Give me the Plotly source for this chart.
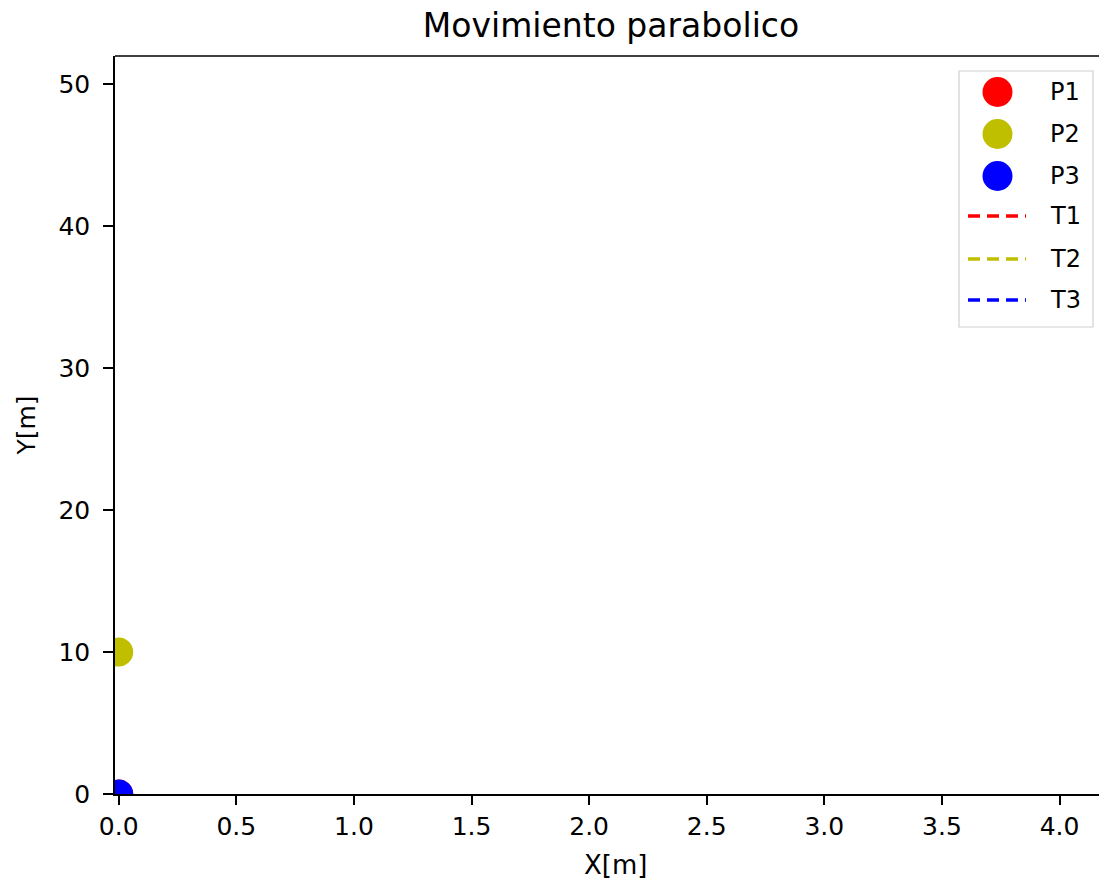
import plotly.graph_objects as go

# ---- data ----
point_names = ["P1", "P2", "P3"]
point_colors = ["#ff0000", "#bfbf00", "#0000ff"]
point_x = [0.0, 0.0, 0.0]
point_y = [0.0, 10.0, 0.0]

traj_names = ["T1", "T2", "T3"]
traj_x = [[0.0], [0.0], [0.0]]
traj_y = [[0.0], [10.0], [0.0]]

x_tick_vals = [0.0, 0.5, 1.0, 1.5, 2.0, 2.5, 3.0, 3.5, 4.0]
x_tick_text = ["0.0", "0.5", "1.0", "1.5", "2.0", "2.5", "3.0", "3.5", "4.0"]
y_tick_vals = [0, 10, 20, 30, 40, 50]
y_tick_text = ["0", "10", "20", "30", "40", "50"]

title_text = "Movimiento parabolico"
x_label = "X[m]"
y_label = "Y[m]"

# ---- layout geometry (page pixels) ----
FIG_W, FIG_H = 1099, 885
L, R, T, B = 115, 1099, 56, 794
PW, PH = R - L, B - T
FONT = "DejaVu Sans"


def px(x):
    return (x - L) / PW


def py(y):
    return (B - y) / PH


fig = go.Figure()

for name, col, xs, ys in zip(traj_names, point_colors, traj_x, traj_y):
    fig.add_trace(go.Scatter(x=xs, y=ys, mode="lines", name=name,
                             line=dict(color=col, width=3.5, dash="13px,6px"),
                             showlegend=False))

for name, col, x, y in zip(point_names, point_colors, point_x, point_y):
    fig.add_trace(go.Scatter(x=[x], y=[y], mode="markers", name=name,
                             marker=dict(color=col, size=29, line=dict(width=0)),
                             showlegend=False))

shapes = []
annotations = []

# top spine (the right spine lies outside the cropped picture)
shapes.append(dict(type="line", xref="paper", yref="paper",
                   x0=0, x1=1, y0=1, y1=1,
                   line=dict(color="black", width=1.5), layer="above"))

# ---- manual legend (matplotlib style) ----
shapes.append(dict(type="rect", xref="paper", yref="paper",
                   x0=px(959), x1=px(1093), y0=py(327), y1=py(71),
                   line=dict(color="#d0d0d0", width=1.2),
                   fillcolor="rgba(255,255,255,0.8)", layer="above"))
entry_y = [92, 134, 176, 216, 259, 300]
labels = point_names + traj_names
for i, (lab, yy) in enumerate(zip(labels, entry_y)):
    col = point_colors[i % 3]
    if i < 3:
        r = 15
        shapes.append(dict(type="circle", xref="paper", yref="paper",
                           x0=px(997.5 - r), x1=px(997.5 + r),
                           y0=py(yy + r), y1=py(yy - r),
                           fillcolor=col, line=dict(width=0), layer="above"))
    else:
        shapes.append(dict(type="line", xref="paper", yref="paper",
                           x0=px(968), x1=px(1026), y0=py(yy), y1=py(yy),
                           line=dict(color=col, width=3.5, dash="12px,7px"),
                           layer="above"))
    annotations.append(dict(text=lab, xref="paper", yref="paper",
                            x=px(1048), y=py(yy), xanchor="left", yanchor="middle",
                            showarrow=False, font=dict(family=FONT, size=24, color="black")))

# x axis label (centred on the full, partly cropped, axes)
annotations.append(dict(text=x_label, xref="paper", yref="paper",
                        x=px(615), y=py(865), xanchor="center", yanchor="middle",
                        showarrow=False, font=dict(family=FONT, size=26, color="black")))

x_scale = 235.2  # px per unit
x0_px = 118.7

fig.update_layout(
    width=FIG_W, height=FIG_H,
    margin=dict(l=L, r=FIG_W - R, t=T, b=FIG_H - B, pad=0),
    paper_bgcolor="white", plot_bgcolor="white",
    font=dict(family=FONT, size=24, color="black"),
    title=dict(text=title_text, x=px(611), xref="paper", xanchor="center",
               y=1 - 25 / FIG_H, yref="container", yanchor="middle",
               font=dict(family=FONT, size=33, color="black")),
    showlegend=False,
    shapes=shapes,
    annotations=annotations,
    xaxis=dict(range=[(L - x0_px) / x_scale, (R - x0_px) / x_scale],
               tickvals=x_tick_vals, ticktext=x_tick_text,
               ticks="outside", ticklen=9, tickwidth=1.5, tickcolor="black",
               showline=True, linecolor="black", linewidth=1.5,
               showgrid=False, zeroline=False,
               tickfont=dict(family=FONT, size=25, color="black")),
    yaxis=dict(range=[0, 52],
               tickvals=y_tick_vals, ticktext=y_tick_text,
               ticks="outside", ticklen=10, tickwidth=1.5, tickcolor="black",
               ticklabelstandoff=8,
               showline=True, linecolor="black", linewidth=1.5,
               showgrid=False, zeroline=False,
               tickfont=dict(family=FONT, size=25, color="black"),
               title=dict(text=y_label, standoff=16,
                          font=dict(family=FONT, size=25, color="black"))),
)

fig.write_html("out.html",
               config={"displayModeBar": False},
               post_script="document.body.style.margin='0';"
                           "document.documentElement.style.margin='0';")
